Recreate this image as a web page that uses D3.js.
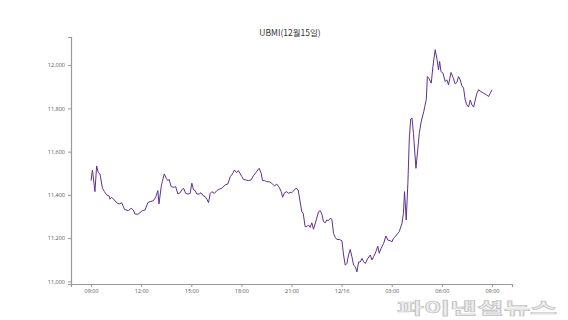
<!DOCTYPE html>
<html><head><meta charset="utf-8">
<script src="https://cdn.jsdelivr.net/npm/d3@7"></script>
<style>
html,body{margin:0;padding:0;background:#fff;}
svg{display:block;}
</style></head>
<body>
<svg id="chart" width="568" height="320"></svg>
<script>
// Data: minutes after 2020-12-15 09:00, UBMI index values
const minutes = [0,5,14,20,26,32,41,48,56,65,68,74,84,92,101,110,120,134,144,152,158,168,176,184,194,204,212,224,233,240,244,252,256,263,270,276,280,288,296,304,312,320,326,332,340,348,356,362,368,374,380,388,395,404,410,416,422,428,434,443,452,460,470,482,491,500,508,515,523,529,536,542,547,556,565,575,583,592,599,604,611,616,623,631,640,649,659,667,676,683,688,695,703,709,715,721,727,736,744,750,757,762,769,775,781,787,793,799,809,817,823,829,835,841,847,853,859,865,871,877,883,892,901,907,913,919,925,931,937,943,949,955,961,967,973,979,985,994,1003,1009,1015,1023,1030,1035,1042,1051,1059,1066,1075,1081,1086,1095,1102,1107,1117,1122,1126,1132,1138,1143,1148,1153,1158,1167,1174,1179,1186,1190,1195,1199,1204,1208,1213,1222,1228,1236,1242,1248,1252,1257,1264,1272,1278,1284,1293,1300,1308,1314,1320,1326,1332,1338,1344,1350,1356,1362,1368,1374,1380,1386,1392,1400,1410,1420,1428,1434,1440];
const values = [11466,11515,11415,11534,11503,11497,11431,11415,11400,11395,11380,11389,11376,11364,11358,11364,11333,11327,11338,11330,11312,11310,11318,11327,11330,11364,11369,11373,11392,11420,11358,11438,11461,11497,11477,11466,11472,11438,11435,11438,11404,11410,11423,11431,11407,11404,11407,11454,11423,11420,11404,11404,11410,11395,11392,11380,11364,11407,11415,11407,11420,11426,11431,11446,11450,11484,11497,11515,11503,11512,11497,11484,11472,11469,11466,11469,11488,11503,11515,11523,11500,11466,11466,11461,11461,11454,11441,11450,11435,11415,11389,11410,11415,11407,11412,11410,11418,11431,11423,11376,11322,11315,11253,11253,11261,11250,11271,11241,11284,11322,11327,11312,11276,11271,11284,11281,11292,11287,11222,11204,11194,11194,11188,11122,11075,11083,11122,11148,11114,11075,11068,11044,11090,11090,11106,11091,11083,11106,11122,11099,11114,11137,11163,11130,11153,11176,11210,11191,11188,11183,11199,11210,11222,11230,11269,11315,11415,11284,11454,11654,11750,11755,11685,11523,11616,11685,11740,11760,11785,11810,11840,11947,11940,11917,11994,12071,12032,11978,12017,11970,11963,11924,11932,11909,11966,11944,11913,11920,11947,11932,11904,11894,11839,11816,11806,11839,11816,11806,11839,11870,11886,11878,11870,11863,11855,11870,11886];
const yTicks = [11000,11200,11400,11600,11800,12000];
const title = "UBMI(12월15일)";
const watermark = "파이낸셜뉴스";

const start = new Date(2020, 11, 15, 9, 0);
const pts = minutes.map((m, i) => ({t: new Date(start.getTime() + m * 60000), v: values[i]}));

const svg = d3.select("#chart");
const x = d3.scaleTime()
  .domain([new Date(2020, 11, 15, 7, 48), new Date(2020, 11, 16, 10, 12)])
  .range([71, 512]);
const y = d3.scaleLinear().domain([10988, 12130]).range([284, 37]);

// watermark
svg.append("text")
  .attr("x", 397).attr("y", 313.5)
  .attr("font-family", "Noto Sans CJK KR")
  .attr("font-size", 16).attr("font-weight", 700)
  .attr("textLength", 160).attr("lengthAdjust", "spacingAndGlyphs")
  .attr("fill", "#f0f0f0").attr("stroke", "#c4c4c4").attr("stroke-width", 0.7)
  .text(watermark);

const fmt = d => (d.getHours() === 0 ? d3.timeFormat("%m/%d")(d) : d3.timeFormat("%H:%M")(d));
const xAxis = d3.axisBottom(x)
  .tickValues(d3.range(0, 9).map(i => new Date(start.getTime() + i * 3 * 3600000)))
  .tickFormat(fmt).tickSizeOuter(0).tickSize(3).tickPadding(2.5);
const yAxis = d3.axisLeft(y).tickValues(yTicks).tickFormat(d3.format(","))
  .tickSizeOuter(0).tickSize(3).tickPadding(3);

function styleAxis(g) {
  g.select(".domain").attr("stroke", "#999").attr("stroke-width", 1.2);
  g.selectAll(".tick line").attr("stroke", "#999");
  g.selectAll(".tick text").attr("fill", "#555").attr("font-size", 5.5)
    .attr("font-family", "Open Sans, sans-serif");
}
svg.append("g").attr("transform", "translate(0,284)").call(xAxis).call(styleAxis);
svg.append("g").attr("transform", "translate(71,0)").call(yAxis).call(styleAxis);

svg.append("path").datum(pts)
  .attr("fill", "none").attr("stroke", "#5e3191").attr("stroke-width", 1)
  .attr("stroke-linejoin", "round")
  .attr("d", d3.line().x(d => x(d.t)).y(d => y(d.v)));

svg.append("text")
  .attr("x", 290).attr("y", 36).attr("text-anchor", "middle")
  .attr("font-family", "Noto Sans CJK KR").attr("font-size", 8.5).attr("fill", "#333")
  .text(title);
</script>
</body></html>
